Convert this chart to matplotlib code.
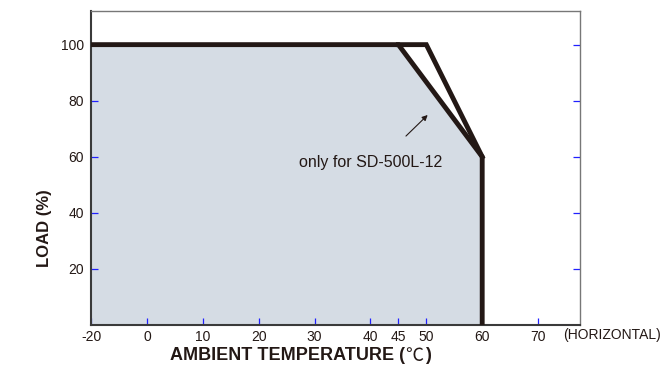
import matplotlib
matplotlib.use("Agg")
import matplotlib.pyplot as plt
import numpy as np

plt.rcParams['font.family'] = ['Liberation Sans', 'DejaVu Sans']

# data
main_temp = [-20, 45, 60, 60]
main_load = [100, 100, 60, 0]
alt_temp = [45, 50, 60]
alt_load = [100, 100, 60]
x_ticks = [-20, 0, 10, 20, 30, 40, 45, 50, 60, 70]
y_ticks = [20, 40, 60, 80, 100]
note = "only for SD-500L-12"


def fwd(x):
    x = np.asarray(x, dtype=float)
    return np.where(x < 0, x / 2.0, x)


def inv(x):
    x = np.asarray(x, dtype=float)
    return np.where(x < 0, x * 2.0, x)


fig = plt.figure(figsize=(6.64, 3.85), dpi=100)
ax = fig.add_axes([91/664, 1-325/385, (580-91)/664, (325-11)/385])
ax.set_xscale('function', functions=(fwd, inv))
ax.set_xlim(-20, 77.5)
ax.set_ylim(0, 112)

ax.fill_between(main_temp, main_load, 0, color='#d5dce4', zorder=1, linewidth=0)
ax.plot(alt_temp, alt_load, color='#231815', lw=3.5, solid_joinstyle='miter', zorder=3)
ax.plot(main_temp, main_load, color='#231815', lw=3.5, solid_joinstyle='miter', zorder=3)

ax.set_xticks(x_ticks)
ax.set_xticklabels([str(t) for t in x_ticks])
ax.xaxis.set_minor_locator(matplotlib.ticker.NullLocator())
ax.set_yticks(y_ticks)
ax.set_yticklabels([str(t) for t in y_ticks])
ax.tick_params(axis='both', direction='in', color='#2020ff', length=5, width=0.9,
               labelsize=10, labelcolor='#231815', pad=5)
ax.tick_params(axis='x', pad=3.5)
ax.tick_params(axis='y', right=True)

for s in ['top', 'right']:
    ax.spines[s].set_color('#777777')
    ax.spines[s].set_linewidth(1)
for s in ['left', 'bottom']:
    ax.spines[s].set_color('#3a3a3a')
    ax.spines[s].set_linewidth(1.5)

ax.annotate('', xy=(50.6, 75.6), xytext=(46.0, 66.7),
            arrowprops=dict(arrowstyle='-|>', color='#231815', lw=0.8,
                            mutation_scale=8), zorder=4)
ax.text(40.1, 58.0, note, fontsize=11.5, ha='center', va='center', color='#231815')

fig.text(563/664, 1-335/385, '(HORIZONTAL)', fontsize=10, ha='left', va='center', color='#231815')
fig.text(45/664, 1-228/385, 'LOAD (%)', fontsize=12, fontweight='bold', rotation=90,
         ha='center', va='center', color='#231815')

# x label: bold text with a light degree-Celsius sign
parts = [('AMBIENT TEMPERATURE (', 'bold', ['Liberation Sans']),
         ('\u2103', 'normal', ['Noto Sans CJK SC', 'DejaVu Sans']),
         (')', 'bold', ['Liberation Sans'])]
fig.canvas.draw()
r = fig.canvas.get_renderer()
texts = []
for s, w, fam in parts:
    t = fig.text(0.0, 1-356/385, s, fontsize=13, fontweight=w, family=fam,
                 ha='left', va='center', color='#231815')
    texts.append(t)
widths = [t.get_window_extent(renderer=r).width / 664 for t in texts]
total = sum(widths) + 2/664
xpos = 300/664 - total / 2
for i, t in enumerate(texts):
    t.set_x(xpos)
    xpos += widths[i] + (1/664 if i < 2 else 0)

fig.savefig('out.png', dpi=100)
